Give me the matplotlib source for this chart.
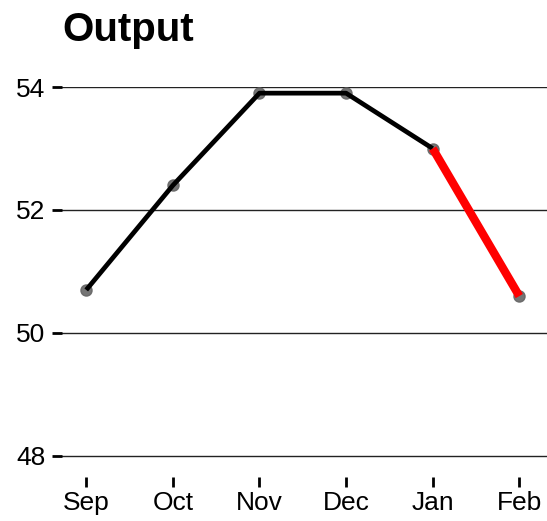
import numpy as np
import matplotlib
matplotlib.use('Agg')
import matplotlib.pyplot as plt

months = ['Sep', 'Oct', 'Nov', 'Dec', 'Jan', 'Feb']
output = [50.7, 52.4, 53.9, 53.9, 53.0, 50.6]
yticks = [48, 50, 52, 54]

plt.rcParams['font.family'] = ['Liberation Sans', 'DejaVu Sans']

fig = plt.figure(figsize=(5.47, 5.21), dpi=100)
ax = fig.add_axes([0.1133, 0.0835, 0.8867, 0.7495])

x = np.arange(len(months))

# grey points underneath the line
ax.plot(x, output, 'o', color='#666666', markersize=8, alpha=0.9, zorder=2)
# black line up to Jan, red for the last step
ax.plot(x[:5], output[:5], color='black', linewidth=3.4, solid_capstyle='butt', zorder=3)
ax.plot(x[4:], output[4:], color='red', linewidth=6, solid_capstyle='butt', zorder=3)

ax.set_xlim(-0.28, 5.32)
ax.set_ylim(47.65, 54.0)
ax.set_yticks(yticks)
ax.set_xticks(x)
ax.set_xticklabels(months)

for y in yticks:
    ax.axhline(y, color='#222222', linewidth=1, zorder=1)

for s in ax.spines.values():
    s.set_visible(False)

ax.tick_params(axis='y', length=7, width=2, color='black', labelsize=19, pad=5)
ax.tick_params(axis='x', length=7, width=2, color='black', labelsize=19, pad=3)

fig.text(0.1133, 0.922, 'Output', fontsize=29, fontweight='bold', ha='left', va='baseline')

fig.savefig('out.png', dpi=100)
